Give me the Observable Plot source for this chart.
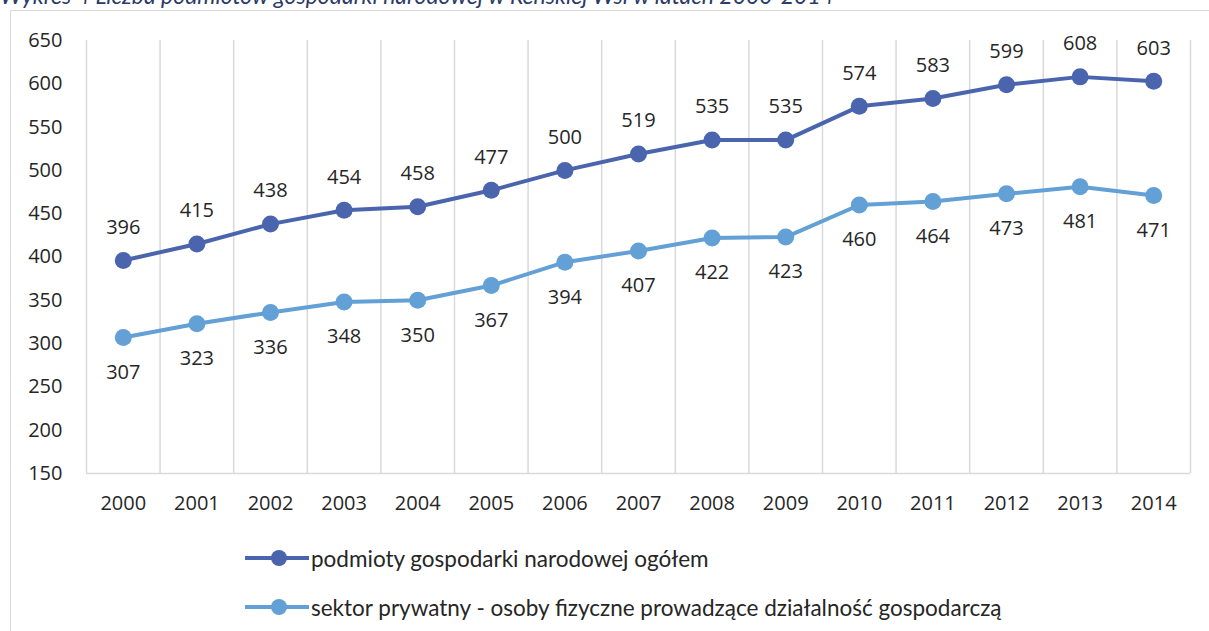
<!DOCTYPE html>
<html>
<head>
<meta charset="utf-8">
<script src="https://cdn.jsdelivr.net/npm/d3@7"></script>
<script src="https://cdn.jsdelivr.net/npm/@observablehq/plot@0.6"></script>
<style>
  html, body { margin: 0; padding: 0; background: #fff; overflow: hidden; width: 1209px; height: 631px; }
  #wrap { position: relative; width: 1209px; height: 631px; overflow: hidden; }
  #title { position: absolute; left: 0; top: -19px; white-space: nowrap; font-family: Lato, sans-serif; font-style: italic; font-size: 23px; color: #2B3A67; }
  #frame { position: absolute; left: 10px; top: 10px; width: 1400px; height: 800px; border: 1.5px solid #D9D9D9; box-sizing: border-box; }
  #chart { position: absolute; left: 0; top: 0; }
  #legend { position: absolute; left: 244px; top: 531px; font-family: Lato, sans-serif; font-size: 22.5px; color: #262626; }
  .row { position: absolute; left: 0; white-space: nowrap; display: flex; align-items: center; height: 30px; }
  .row svg { display: block; margin-right: 1px; }
</style>
</head>
<body>
<div id="wrap">
  <div id="frame"></div>
  <div id="title">Wykres 4 Liczba podmiotów gospodarki narodowej w Reńskiej Wsi w latach 2000-2014</div>
  <div id="chart"></div>
  <div id="legend"></div>
</div>
<script>
const years = [2000, 2001, 2002, 2003, 2004, 2005, 2006, 2007, 2008, 2009, 2010, 2011, 2012, 2013, 2014];
const ogolem = [396, 415, 438, 454, 458, 477, 500, 519, 535, 535, 574, 583, 599, 608, 603];
const prywatny = [307, 323, 336, 348, 350, 367, 394, 407, 422, 423, 460, 464, 473, 481, 471];
const yTicks = [150, 200, 250, 300, 350, 400, 450, 500, 550, 600, 650];
const seriesNames = ["podmioty gospodarki narodowej ogółem", "sektor prywatny - osoby fizyczne prowadzące działalność gospodarczą"];
const colors = ["#4A65AE", "#62A0D6"];

const rows1 = years.map((y, i) => ({year: y, value: ogolem[i]}));
const rows2 = years.map((y, i) => ({year: y, value: prywatny[i]}));
const boundaries = years.map(y => y - 0.5).concat([years[years.length - 1] + 0.5]);

const chart = Plot.plot({
  width: 1209,
  height: 531,
  marginLeft: 86,
  marginRight: 19,
  marginTop: 40,
  marginBottom: 58,
  style: {fontSize: "20px", fontFamily: "'Open Sans', sans-serif", color: "#262626", background: "transparent"},
  x: {domain: [boundaries[0], boundaries[boundaries.length - 1]], ticks: years, tickFormat: d => String(d), tickSize: 0, tickPadding: 22, label: null},
  y: {domain: [150, 650], ticks: yTicks, tickSize: 0, tickPadding: 24, label: null},
  marks: [
    Plot.ruleX(boundaries, {stroke: "#D9D9D9", strokeWidth: 1.5, strokeOpacity: 1}),
    Plot.ruleY([150], {stroke: "#D9D9D9", strokeWidth: 1.5, strokeOpacity: 1}),
    Plot.line(rows1, {x: "year", y: "value", stroke: colors[0], strokeWidth: 4}),
    Plot.line(rows2, {x: "year", y: "value", stroke: colors[1], strokeWidth: 4}),
    Plot.dot(rows1, {x: "year", y: "value", fill: colors[0], r: 8.5}),
    Plot.dot(rows2, {x: "year", y: "value", fill: colors[1], r: 8.5}),
    Plot.text(rows1, {x: "year", y: "value", text: d => String(d.value), dy: -33, fill: "#262626", fontSize: 20}),
    Plot.text(rows2, {x: "year", y: "value", text: d => String(d.value), dy: 35, fill: "#262626", fontSize: 20})
  ]
});
document.getElementById("chart").appendChild(chart);

const legend = document.getElementById("legend");
const rowTops = [12, 61];
seriesNames.forEach((name, i) => {
  const row = document.createElement("div");
  row.className = "row";
  row.style.top = rowTops[i] + "px";
  row.innerHTML = `<svg width="66" height="22"><line x1="1" y1="11" x2="65" y2="11" stroke="${colors[i]}" stroke-width="4"/><circle cx="35" cy="11" r="8" fill="${colors[i]}"/></svg><span>${name}</span>`;
  legend.appendChild(row);
});
</script>
</body>
</html>
